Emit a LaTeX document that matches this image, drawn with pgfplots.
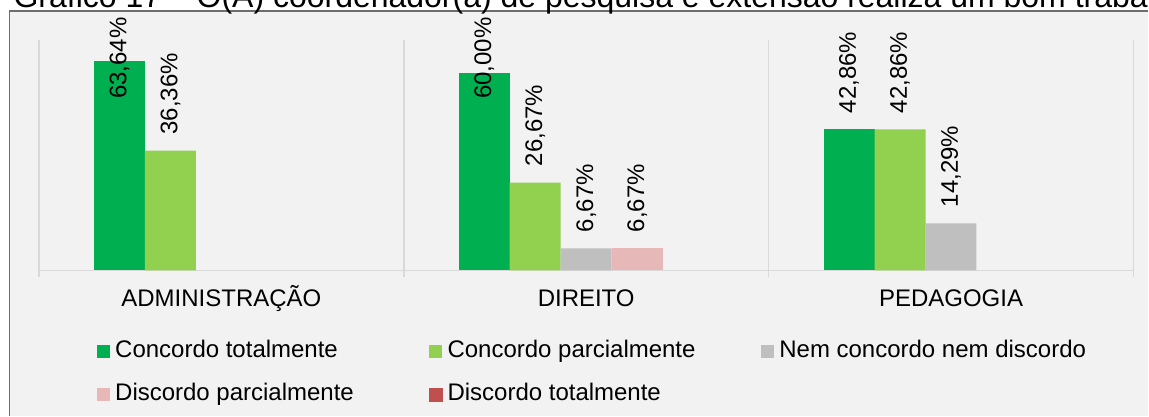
\documentclass[border=0pt]{standalone}
\usepackage{pgfplots}
\pgfplotsset{compat=1.18}
\usepackage{fontspec}
\setmainfont{Liberation Sans}
\definecolor{cgreen}{HTML}{00B050}
\definecolor{clgreen}{HTML}{92D050}
\definecolor{cgray}{HTML}{BFBFBF}
\definecolor{cpink}{HTML}{E6B9B8}
\definecolor{cred}{HTML}{C0504D}
\definecolor{bgc}{HTML}{F2F2F2}
\definecolor{gridc}{HTML}{D9D9D9}
\definecolor{framec}{HTML}{6E6E6E}
\begin{document}
\begin{tikzpicture}
\fill[white] (0,0) rectangle (861.75bp,312bp);
\fill[bgc] (7.125bp,0bp) rectangle (861.75bp,303.75bp);
\draw[framec, line width=0.9bp] (7.125bp,0bp) -- (7.125bp,303.75bp) -- (861.75bp,303.75bp);
\begin{scope}
\clip (0,0) rectangle (861.75bp,312bp);
\node[overlay, anchor=base west, inner sep=0pt, font=\fontsize{24bp}{28bp}\selectfont] at (10bp,306bp)
  {Gráfico 17 – O(A) coordenador(a) de pesquisa e extensão realiza um bom trabalho};
\end{scope}
\begin{axis}[
  at={(29.25bp,109.125bp)}, anchor=south west,
  scale only axis, width=821.25bp, height=172.875bp,
  xmin=-0.5, xmax=2.5, ymin=0, ymax=70,
  enlargelimits=false, clip=false,
  axis x line=bottom, axis y line=none,
  x axis line style={-, draw=gridc, line width=1.2bp},
  xtick={0,1,2}, xticklabels={ADMINISTRAÇÃO, DIREITO, PEDAGOGIA},
  major tick length=0pt,
  minor xtick={-0.5,0.5,1.5,2.5},
  minor tick length=5.25bp, tick align=outside,
  minor tick style={draw=gridc, line width=1.2bp},
  xminorgrids=true,
  minor grid style={draw=gridc, line width=1.2bp},
  xticklabel style={font=\fontsize{18bp}{21.6bp}\selectfont, anchor=base, yshift=-27.4bp},
  ybar=0pt, bar width=38.25bp,
  lgd/.style={legend image code/.code={\fill[#1] (0bp,-6.8bp) rectangle (9.75bp,3bp);}},
  lab/.style={every node near coord/.append style={font=\fontsize{18bp}{21.6bp}\selectfont, text=black, inner sep=0pt, anchor=west, yshift=#1, rotate=90}},
  nodes near coords={\pgfmathprintnumber[fixed,fixed zerofill,precision=2,use comma,assume math mode=true]{\pgfplotspointmeta}\%},
  legend columns=3,
  legend cell align=left,
  legend style={at={(0.05297,-0.30224)}, anchor=north west, draw=none, fill=none, inner sep=0pt,
    font=\fontsize{18bp}{21.6bp}\selectfont, row sep=18.95bp,
    /tikz/every odd column/.style={column sep=3.75bp},
    nodes={inner sep=0pt, text height=13bp, text depth=0bp}},
]
% Concordo totalmente (split only to place the two crowded labels)
\addplot[forget plot, fill=cgreen, draw=none, bar shift=-76.5bp, lab=-28.55bp] coordinates {(0,63.64)};
\addplot[forget plot, fill=cgreen, draw=none, bar shift=-76.5bp, lab=-19.56bp] coordinates {(1,60.00)};
\addplot[fill=cgreen, draw=none, bar shift=-76.5bp, lgd=cgreen, lab=12bp] coordinates {(2,42.86)};
\addlegendentry{\makebox[235.5bp][l]{Concordo totalmente}}
\addplot[fill=clgreen, draw=none, bar shift=-38.25bp, lgd=clgreen, lab=12bp] coordinates {(0,36.36) (1,26.67) (2,42.86)};
\addlegendentry{\makebox[235.5bp][l]{Concordo parcialmente}}
\addplot[fill=cgray, draw=none, bar shift=0bp, lgd=cgray, lab=12bp] coordinates {(1,6.67) (2,14.29)};
\addlegendentry{Nem concordo nem discordo}
\addplot[fill=cpink, draw=none, bar shift=38.25bp, lgd=cpink, lab=12bp] coordinates {(1,6.67)};
\addlegendentry{\makebox[235.5bp][l]{Discordo parcialmente}}
\addlegendimage{lgd=cred}
\addlegendentry{\makebox[235.5bp][l]{Discordo totalmente}}
\end{axis}
\end{tikzpicture}
\end{document}
